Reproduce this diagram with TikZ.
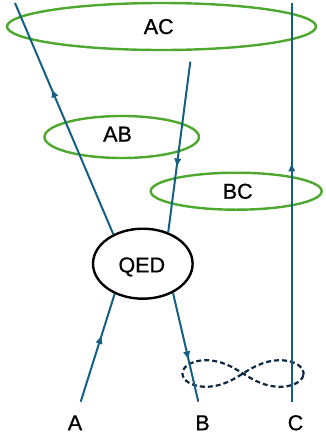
\documentclass[tikz,border=0pt]{standalone}
\usepackage{fontspec}
\setmainfont{Liberation Sans}[FakeBold=0.8]
\usetikzlibrary{shapes.geometric,decorations.markings,arrows.meta}
\definecolor{wire}{HTML}{156082}
\definecolor{grp}{HTML}{4EA72E}
\definecolor{loopc}{HTML}{0E2841}
\begin{document}
\begin{tikzpicture}[x=1pt,y=-1pt,
  txt/.style={font=\fontsize{21.5}{26}\selectfont, text height=15.4pt, text depth=0pt, inner sep=0pt},
  grpell/.style={ellipse, draw=grp, line width=2.4pt, inner sep=0pt},
  qedell/.style={ellipse, draw=black, line width=2.4pt, inner sep=0pt},
  wireln/.style={draw=wire, line width=2pt},
  midarrow/.style={postaction={decorate}, decoration={markings, mark=at position #1 with {\arrow[wire]{Latex[length=9pt,width=7.5pt]}}}}
]
\useasboundingbox (0,0) rectangle (325,440);
% groups
\node[grpell, minimum width=309pt, minimum height=47pt] (ac) at (161.5,26.5) {};
\node[grpell, minimum width=154.5pt, minimum height=42pt] (ab) at (121.7,137) {};
\node[grpell, minimum width=171pt, minimum height=37pt] (bc) at (236.2,191.2) {};
\node[txt] (acl) at (158.7,26.3) {AC};
\node[txt] (abl) at (117.5,133.8) {AB};
\node[txt] (bcl) at (237.7,191) {BC};
% QED blob
\node[qedell, minimum width=99.6pt, minimum height=70pt] (qed) at (142.8,263.7) {};
\node[txt] (qedl) at (141.8,264.7) {QED};
% figure-eight loop
\draw[loopc, line width=2.2pt, dash pattern=on 5pt off 3pt]
  plot[domain=0:360, samples=120, smooth cycle]
  ({243+60.5*cos(\x)/(1+sin(\x)^2)}, {373.5+0.62*60.5*sin(\x)*cos(\x)/(1+sin(\x)^2)});
% endpoints
\coordinate (atop) at (15,3);
\coordinate (btop) at (190.3,61.7);
\coordinate (ctop) at (291.7,3);
\coordinate (afoot) at (80.7,401.7);
\coordinate (bfoot) at (198.3,401.7);
\coordinate (cfoot) at (291.7,401.7);
% labels
\node[txt] (la) at (75,422.5) {A};
\node[txt] (lb) at (202.5,422.5) {B};
\node[txt] (lc) at (295.5,422.5) {C};
% wires
\draw[wireln, midarrow=0.62] (afoot) -- (qed.227);
\draw[wireln, midarrow=0.63] (qed.135) -- (atop);
\draw[wireln, midarrow=0.62] (btop) -- (qed.51);
\draw[wireln, midarrow=0.62] (qed.316) -- (bfoot);
\draw[wireln, midarrow=0.6] (cfoot) -- (ctop);
\end{tikzpicture}
\end{document}
